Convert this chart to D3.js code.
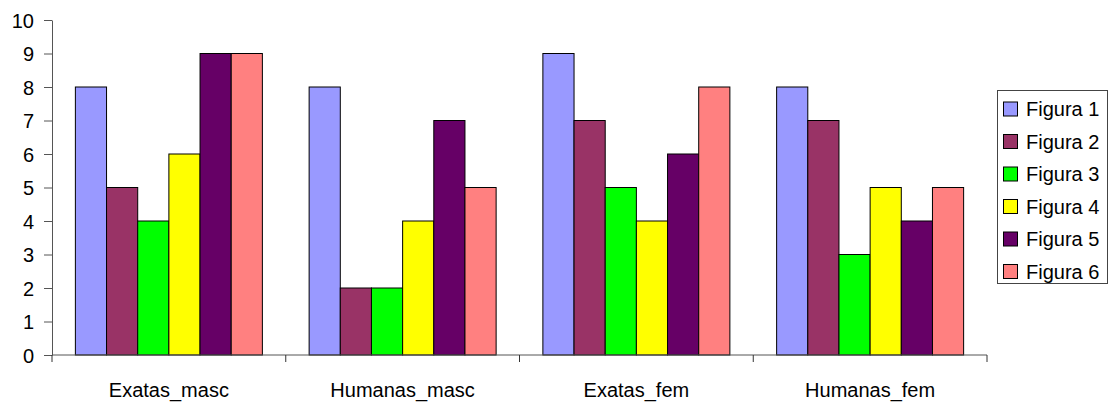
<!DOCTYPE html>
<html><head><meta charset="utf-8">
<script src="https://cdn.jsdelivr.net/npm/d3@7"></script>
<style>body{margin:0;background:#fff}svg{display:block}text{font-family:"Liberation Sans",Arial,sans-serif;fill:#000}</style>
</head><body><svg id="c" width="1111" height="402"></svg>
<script>
const categories = ["Exatas_masc","Humanas_masc","Exatas_fem","Humanas_fem"];
const seriesNames = ["Figura 1","Figura 2","Figura 3","Figura 4","Figura 5","Figura 6"];
const figura1 = [8,8,9,8];
const figura2 = [5,2,7,7];
const figura3 = [4,2,5,3];
const figura4 = [6,4,4,5];
const figura5 = [9,7,6,4];
const figura6 = [9,5,8,5];
const yTicks = [0,1,2,3,4,5,6,7,8,9,10];
const colors = ["#9999FF","#993366","#00FF00","#FFFF00","#660066","#FF8080"];
const seriesValues = [figura1,figura2,figura3,figura4,figura5,figura6];

const svg = d3.select("#c");
const L=52, R=987, T=20, B=355;
const x0 = d3.scaleBand().domain(categories).range([L,R]);
const bw = x0.bandwidth();
const x1 = d3.scaleBand().domain(seriesNames).range([bw*0.1,bw*0.9]);
const y = d3.scaleLinear().domain([0,10]).range([B,T]);

const g = svg.append("g");
categories.forEach((c,ci)=>{
  seriesNames.forEach((s,si)=>{
    const v = seriesValues[si][ci];
    g.append("rect")
      .attr("x", x0(c)+x1(s)).attr("width", x1.bandwidth())
      .attr("y", y(v)).attr("height", y(0)-y(v))
      .attr("fill", colors[si]).attr("stroke","#000").attr("stroke-width",1);
  });
});

// y axis
const yAxis = d3.axisLeft(y).tickValues(yTicks).tickSize(8).tickPadding(10).tickSizeOuter(0);
const ya = svg.append("g").attr("transform",`translate(${L},0)`).call(yAxis);
ya.selectAll("text").style("font-size","20px").attr("dy","0.35em");
ya.select(".domain").attr("stroke","#555");
ya.selectAll(".tick line").attr("stroke","#555");

// x axis
const xa = svg.append("g").attr("transform",`translate(0,${B})`);
xa.append("line").attr("x1",L).attr("x2",R).attr("stroke","#555");
const bounds = categories.map(c=>x0(c)).concat([R]);
xa.selectAll("line.t").data(bounds).enter().append("line")
  .attr("x1",d=>d).attr("x2",d=>d).attr("y1",0).attr("y2",7).attr("stroke","#333");
xa.selectAll("text").data(categories).enter().append("text")
  .attr("x",d=>x0(d)+bw/2).attr("y",42).attr("text-anchor","middle")
  .style("font-size","20px").text(d=>d);

// legend
const lg = svg.append("g");
lg.append("rect").attr("x",997.5).attr("y",90.5).attr("width",110).attr("height",193)
  .attr("fill","#fff").attr("stroke","#444");
seriesNames.forEach((s,i)=>{
  const cy = 109 + i*32.5;
  lg.append("rect").attr("x",1003.5).attr("y",cy-7).attr("width",14).attr("height",14)
    .attr("fill",colors[i]).attr("stroke","#000");
  lg.append("text").attr("x",1026).attr("y",cy).attr("dy","0.35em")
    .style("font-size","20px").text(s);
});
</script></body></html>
